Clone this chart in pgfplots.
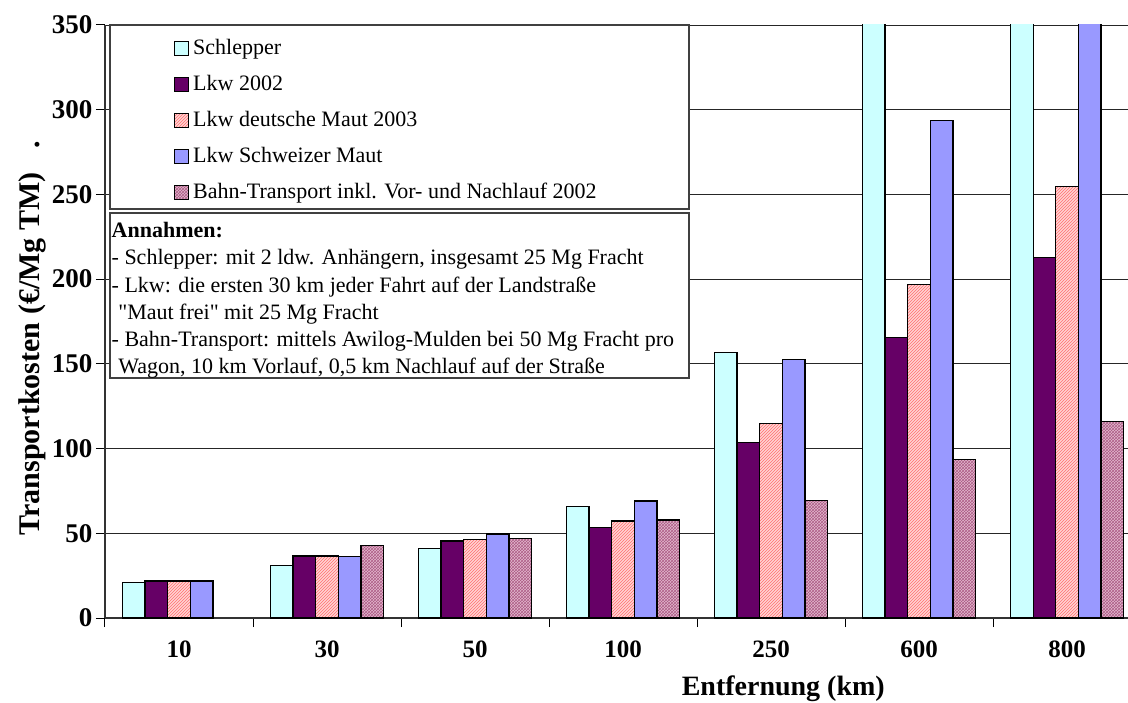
\documentclass[border=0pt]{standalone}
\usepackage{fontspec}
\setmainfont{Liberation Serif}
\newfontfamily\nomapfont{Liberation Serif}[Ligatures=TeXOff]
\usepackage{pgfplots}
\pgfplotsset{compat=1.18}
\usetikzlibrary{patterns}
\definecolor{cSchl}{HTML}{CCFFFF}
\definecolor{cLkw}{HTML}{660066}
\definecolor{cDM}{HTML}{FFD4D4}
\definecolor{cDMp}{HTML}{FF7070}
\definecolor{cSM}{HTML}{9999FF}
\definecolor{cBahn}{HTML}{E2B8CE}
\definecolor{cBahnp}{HTML}{993366}
\begin{document}
\begin{tikzpicture}
\begin{axis}[
  scale only axis, width=1023pt, height=593pt,
  ybar=0pt, bar width=0.153,
  xmin=-0.5, xmax=6.412, ymin=0, ymax=350,
  ytick={0,50,...,350},
  minor ytick={0,50,...,350},
  xtick={0,...,6}, xticklabels={10,30,50,100,250,600,800},
  minor xtick={-0.5,0.5,...,6.5},
  major tick length=0pt, minor tick length=9pt,
  tick align=outside,
  axis x line*=bottom, axis y line*=left,
  axis line style={black!80, line width=1.3pt},
  ymajorgrids, grid style={black!85, line width=0.9pt},
  minor tick style={black, line width=1pt},
  /pgf/number format/assume math mode=true,
  xticklabel style={font=\fontsize{25}{30}\selectfont\bfseries, yshift=-19pt},
  yticklabel style={font=\fontsize{27}{32}\selectfont\bfseries, xshift=-9pt},
  ylabel={Transportkosten (€/Mg TM)\hspace{0.8em}.},
  ylabel style={at={(axis description cs:-0.0714,0.472)}, anchor=center, font=\fontsize{30}{36}\selectfont\bfseries},
  xlabel={Entfernung (km)},
  xlabel style={at={(axis description cs:0.663,-0.1197)}, anchor=center, font=\fontsize{28}{34}\selectfont\bfseries},
  every axis plot/.append style={draw=black, line width=1.2pt},
  legend style={at={(axis description cs:0.0645,0.9806)}, anchor=north west, draw=none, fill=none,
    font=\fontsize{22}{26}\selectfont, nodes={text height=16pt, text depth=5pt, inner sep=0pt},
    row sep=15pt, column sep=4pt},
  legend cell align=left,
  legend image code/.code={\draw[#1, line width=1pt] (0pt,-6pt) rectangle (14pt,8pt);},
]
\addplot[fill=cSchl] coordinates {(0,20.8) (1,30.9) (2,40.9) (3,65.7) (4,156.8) (5,369) (6,490)};
\addplot[fill=cLkw] coordinates {(0,21.8) (1,36.6) (2,45.5) (3,53.5) (4,103.5) (5,165.7) (6,212.7)};
\addplot[fill=cDM, postaction={pattern=north east lines, pattern color=cDMp}] coordinates {(0,21.8) (1,36.6) (2,46.4) (3,57.2) (4,115) (5,197) (6,254.7)};
\addplot[fill=cSM] coordinates {(0,21.8) (1,36.4) (2,49.6) (3,69) (4,152.4) (5,293.5) (6,374)};
\addplot[fill=cBahn, postaction={pattern=crosshatch, pattern color=cBahnp!80}] coordinates {(1,42.7) (2,47) (3,57.9) (4,69.2) (5,93.6) (6,115.8)};
\legend{Schlepper, Lkw 2002, Lkw deutsche Maut 2003, Lkw Schweizer Maut, Bahn-Transport inkl. Vor- und Nachlauf 2002}
\draw[fill=white, draw=black!75, line width=1.2pt] (axis description cs:0.0049,1) rectangle (axis description cs:0.5709,0.6897);
\draw[fill=white, draw=black!75, line width=1.2pt] (axis description cs:0.0049,0.683) rectangle (axis description cs:0.5709,0.4047);
\node[anchor=north west, align=left, inner xsep=1.5pt, inner ysep=9pt, font=\fontsize{22}{27.3}\selectfont] at (axis description cs:0.0049,0.683)
 {\textbf{Annahmen:}\\- Schlepper: mit 2 ldw. Anhängern, insgesamt 25 Mg Fracht\\- Lkw: die ersten 30 km jeder Fahrt auf der Landstraße\\\hspace*{0.3em}{\nomapfont"}Maut frei{\nomapfont"} mit 25 Mg Fracht\\- Bahn-Transport: mittels Awilog-Mulden bei 50 Mg Fracht pro\\\hspace*{0.3em}Wagon, 10 km Vorlauf, 0,5 km Nachlauf auf der Straße};
\end{axis}
\pgfresetboundingbox
\path[use as bounding box] (-105pt,-84pt) rectangle (1023pt,618pt);
\end{tikzpicture}
\end{document}
